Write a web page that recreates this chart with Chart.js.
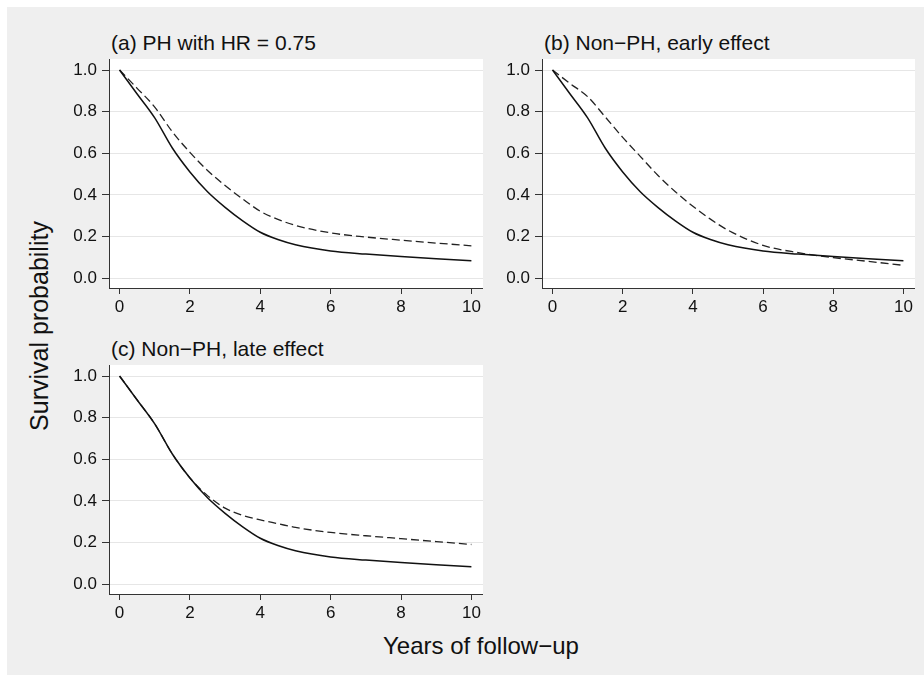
<!DOCTYPE html>
<html lang="en">
<head>
    <meta charset="UTF-8">
    <script src="https://cdn.jsdelivr.net/npm/chart.js"></script>
    <title>Survival curves</title>
    <style>
        body { margin: 0; background: #fff; width: 924px; height: 675px; position: relative; overflow: hidden;
               font-family: 'Liberation Sans', Arial, sans-serif; color: #111; }
        #bg { position: absolute; left: 7px; top: 7px; right: 0; bottom: 0; background: #efefef; }
        canvas { position: absolute; }
        .ptitle { position: absolute; font-size: 21px; line-height: 21px; white-space: nowrap; }
        #ytitle { position: absolute; left: 39px; top: 326px; font-size: 25px; white-space: nowrap;
                  transform: translate(-50%, -50%) rotate(-90deg); }
        #xtitle { position: absolute; left: 383px; top: 634px; font-size: 24px; line-height: 24px; white-space: nowrap; }
    </style>
</head>
<body>
    <div id="bg"></div>
    <div class="ptitle" style="left:111px; top:32px">(a) PH with HR = 0.75</div>
    <div class="ptitle" style="left:544px; top:32px">(b) Non−PH, early effect</div>
    <div class="ptitle" style="left:111px; top:338px">(c) Non−PH, late effect</div>
    <div id="ytitle">Survival probability</div>
    <div id="xtitle">Years of follow−up</div>
    <canvas id="chartA" width="434" height="270" style="left:49px; top:50px"></canvas>
    <canvas id="chartB" width="433" height="270" style="left:482px; top:50px"></canvas>
    <canvas id="chartC" width="434" height="270" style="left:49px; top:356px"></canvas>
    <script>
        // years of follow-up and survival
        const years = [0, 0.5, 1, 1.5, 2, 2.5, 3, 3.5, 4, 4.5, 5, 6, 7, 8, 9, 10];
        const control = [1.0, 0.885, 0.77, 0.625, 0.51, 0.415, 0.34, 0.275, 0.22, 0.185, 0.16, 0.13, 0.115, 0.103, 0.093, 0.083];
        const phHR075 = [1.0, 0.912, 0.822, 0.703, 0.604, 0.517, 0.445, 0.38, 0.321, 0.282, 0.253, 0.217, 0.197, 0.182, 0.168, 0.155];
        const earlyEffect = [1.0, 0.935, 0.872, 0.775, 0.676, 0.585, 0.494, 0.415, 0.345, 0.283, 0.23, 0.157, 0.122, 0.098, 0.08, 0.061];
        const lateEffect = [1.0, 0.885, 0.77, 0.625, 0.51, 0.425, 0.365, 0.33, 0.308, 0.29, 0.272, 0.248, 0.232, 0.218, 0.204, 0.19];

        const xTicks = [0, 2, 4, 6, 8, 10];
        const yTicks = [0, 0.2, 0.4, 0.6, 0.8, 1.0];

        Chart.defaults.font.family = "'Liberation Sans', Arial, sans-serif";
        Chart.defaults.color = '#111';
        const tickFont = { family: "'Liberation Sans', Arial, sans-serif", size: 17 };

        const whiteArea = {
            id: 'whiteArea',
            beforeDraw(chart) {
                const a = chart.chartArea;
                chart.ctx.save();
                chart.ctx.fillStyle = '#fff';
                chart.ctx.fillRect(a.left, a.top, a.right - a.left, a.bottom - a.top);
                chart.ctx.restore();
            }
        };

        function pts(vals) {
            return years.map((x, i) => ({ x: x, y: vals[i] }));
        }

        function makePanel(id, treated) {
            new Chart(document.getElementById(id), {
                type: 'line',
                data: {
                    datasets: [
                        { data: pts(control), borderColor: '#111', borderWidth: 1.5 },
                        { data: pts(treated), borderColor: '#222', borderWidth: 1.3, borderDash: [8, 4] }
                    ]
                },
                options: {
                    responsive: false,
                    animation: false,
                    layout: { padding: { top: 9, right: 0, left: 0, bottom: 0 } },
                    elements: { point: { radius: 0 }, line: { cubicInterpolationMode: 'monotone' } },
                    plugins: { legend: { display: false }, tooltip: { enabled: false } },
                    scales: {
                        x: {
                            type: 'linear', min: -0.3, max: 10.33,
                            afterBuildTicks: s => { s.ticks = xTicks.map(v => ({ value: v })); },
                            afterFit: s => { s.height = 32; s.paddingLeft = 0; s.paddingRight = 0; },
                            ticks: { font: tickFont, padding: 3, maxRotation: 0, callback: v => String(v) },
                            grid: { drawOnChartArea: false, tickLength: 6, tickColor: '#333' },
                            border: { color: '#333', width: 1 }
                        },
                        y: {
                            min: -0.048, max: 1.053,
                            afterBuildTicks: s => { s.ticks = yTicks.map(v => ({ value: v })); },
                            afterFit: s => { s.width = 60; s.paddingTop = 0; s.paddingBottom = 0; },
                            ticks: { font: tickFont, padding: 5, callback: v => Number(v).toFixed(1) },
                            grid: { color: '#e6e6e6', tickLength: 7, tickColor: '#333' },
                            border: { color: '#333', width: 1 }
                        }
                    }
                },
                plugins: [whiteArea]
            });
        }

        makePanel('chartA', phHR075);
        makePanel('chartB', earlyEffect);
        makePanel('chartC', lateEffect);
    </script>
</body>
</html>
